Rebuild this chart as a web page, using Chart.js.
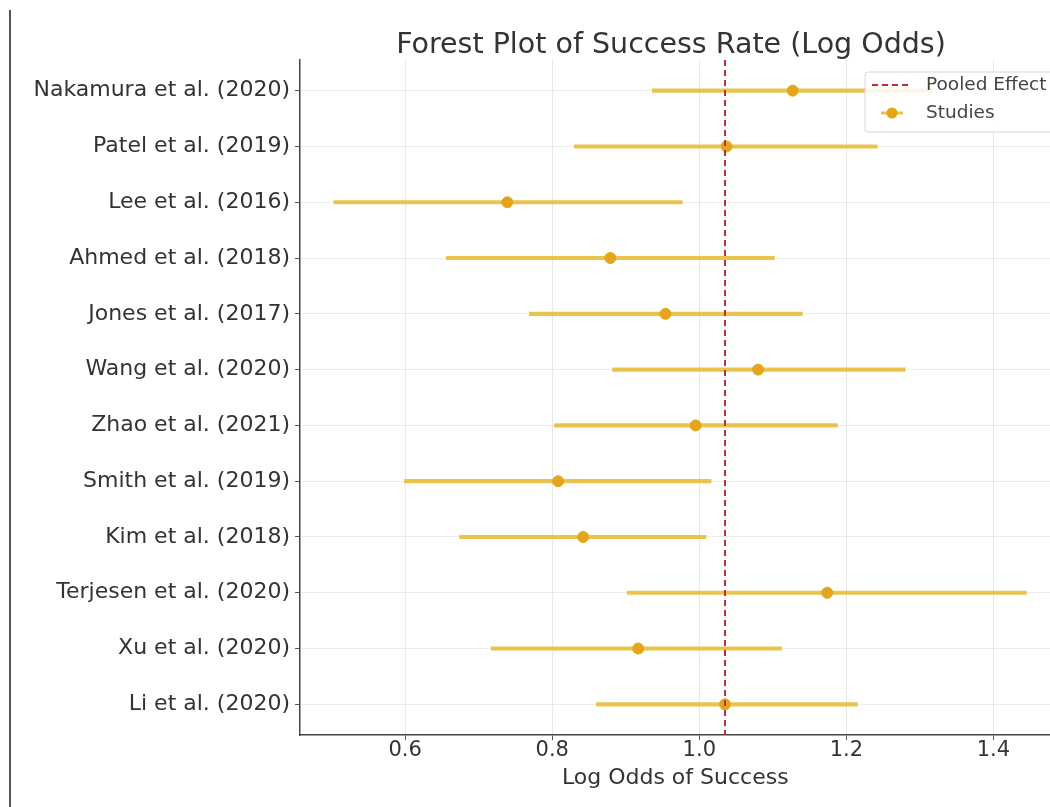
<!DOCTYPE html>
<html>
<head>
<meta charset="utf-8">
<script src="https://cdn.jsdelivr.net/npm/chart.js@4/dist/chart.umd.min.js"></script>
<style>
  html, body { margin: 0; padding: 0; background: #fff; }
  #wrap { position: relative; width: 1050px; height: 807px; overflow: hidden; }
  #edge { position: absolute; left: 9px; top: 10px; width: 2px; height: 797px; background: #555; }
</style>
</head>
<body>
<div id="wrap">
  <canvas id="myChart" width="1057" height="807"></canvas>
  <div id="edge"></div>
</div>
<script>
// Estudios, de arriba hacia abajo
const estudios = [
  "Nakamura et al. (2020)", "Patel et al. (2019)", "Lee et al. (2016)", "Ahmed et al. (2018)",
  "Jones et al. (2017)", "Wang et al. (2020)", "Zhao et al. (2021)", "Smith et al. (2019)",
  "Kim et al. (2018)", "Terjesen et al. (2020)", "Xu et al. (2020)", "Li et al. (2020)"
];
const logOdds = [1.127, 1.037, 0.739, 0.879, 0.954, 1.080, 0.995, 0.808, 0.842, 1.174, 0.917, 1.035];
const ciBajo  = [0.936, 0.830, 0.503, 0.656, 0.769, 0.882, 0.803, 0.599, 0.674, 0.902, 0.717, 0.860];
const ciAlto  = [1.318, 1.242, 0.977, 1.102, 1.140, 1.280, 1.188, 1.016, 1.009, 1.445, 1.112, 1.215];
const efectoGlobal = 1.035;
const ticksX = [0.6, 0.8, 1.0, 1.2, 1.4];

const dorado = "#e4a51a";
const barra = "rgba(232,188,52,0.88)";
const rojo = "#b82c3c";

// Leyenda dibujada dentro del área, como en matplotlib
const leyendaInterna = {
  id: "leyendaInterna",
  afterDraw(chart) {
    const c = chart.ctx;
    const x0 = 865, y0 = 72;
    c.save();
    c.fillStyle = "rgba(255,255,255,0.85)";
    c.strokeStyle = "#d6d6d6";
    c.lineWidth = 1;
    c.beginPath();
    c.roundRect(x0, y0, 200, 60, 3);
    c.fill();
    c.stroke();
    c.font = "18.5px 'DejaVu Sans'";
    c.fillStyle = "#444";
    c.textBaseline = "middle";
    // Pooled Effect
    c.strokeStyle = rojo;
    c.lineWidth = 2;
    c.setLineDash([6, 4]);
    c.beginPath();
    c.moveTo(872, 85);
    c.lineTo(912, 85);
    c.stroke();
    c.setLineDash([]);
    c.fillText(chart.data.datasets[0].label, 926, 85);
    // Studies
    c.strokeStyle = barra;
    c.lineWidth = 3;
    c.beginPath();
    c.moveTo(881, 113);
    c.lineTo(903, 113);
    c.stroke();
    c.fillStyle = dorado;
    c.beginPath();
    c.arc(892, 113, 5.5, 0, Math.PI * 2);
    c.fill();
    c.fillStyle = "#444";
    c.fillText(chart.data.datasets[1].label, 926, 113);
    c.restore();
  }
};

const tituloArea = {
  id: "tituloArea",
  afterDraw(chart) {
    const c = chart.ctx;
    c.save();
    c.font = "28.5px 'DejaVu Sans'";
    c.fillStyle = "#333";
    c.textAlign = "center";
    c.textBaseline = "alphabetic";
    c.fillText("Forest Plot of Success Rate (Log Odds)", 671, 53);
    c.restore();
  }
};

const ctx = document.getElementById("myChart").getContext("2d");
const myChart = new Chart(ctx, {
  type: "scatter",
  data: {
    datasets: [
      {
        type: "line",
        label: "Pooled Effect",
        data: [{x: efectoGlobal, y: -0.55}, {x: efectoGlobal, y: 11.55}],
        borderColor: rojo,
        borderWidth: 2,
        borderDash: [6, 4],
        pointRadius: 0,
        order: 0
      },
      {
        type: "scatter",
        label: "Studies",
        data: logOdds.map((v, i) => ({x: v, y: i})),
        backgroundColor: dorado,
        borderColor: dorado,
        pointRadius: 5.5,
        order: 1
      },
      {
        type: "bar",
        label: "IC",
        indexAxis: "y",
        data: ciBajo.map((v, i) => ({y: i, x: [v, ciAlto[i]]})),
        backgroundColor: barra,
        barThickness: 3.5,
        order: 2
      }
    ]
  },
  options: {
    responsive: false,
    animation: false,
    devicePixelRatio: 1,
    layout: {padding: {top: 60, right: 0, left: 0, bottom: 0}},
    plugins: {
      legend: {display: false},
      title: {display: false},
      tooltip: {enabled: false}
    },
    scales: {
      x: {
        type: "linear",
        min: 0.457,
        max: 1.4776,
        offset: false,
        afterBuildTicks: s => { s.ticks = ticksX.map(v => ({value: v})); },
        afterFit: s => { s.height = 72; },
        ticks: {
          color: "#333",
          font: {family: "DejaVu Sans", size: 21},
          padding: -2,
          callback: v => v.toFixed(1)
        },
        grid: {color: "rgba(0,0,0,0.09)", tickColor: "#555", tickLength: 5, offset: false},
        border: {color: "#444", width: 1.5},
        title: {
          display: true,
          text: "Log Odds of Success",
          color: "#333",
          font: {family: "DejaVu Sans", size: 22},
          padding: {top: 0, bottom: 16}
        }
      },
      y: {
        type: "linear",
        reverse: true,
        min: -0.55,
        max: 11.55,
        offset: false,
        afterBuildTicks: s => { s.ticks = estudios.map((e, i) => ({value: i})); },
        afterFit: s => { s.width = 300; },
        ticks: {
          color: "#333",
          font: {family: "DejaVu Sans", size: 22},
          padding: 5,
          callback: v => estudios[v]
        },
        grid: {color: "rgba(0,0,0,0.07)", tickColor: "#555", tickLength: 5, offset: false},
        border: {color: "#444", width: 1.5}
      }
    }
  },
  plugins: [leyendaInterna, tituloArea]
});
</script>
</body>
</html>
